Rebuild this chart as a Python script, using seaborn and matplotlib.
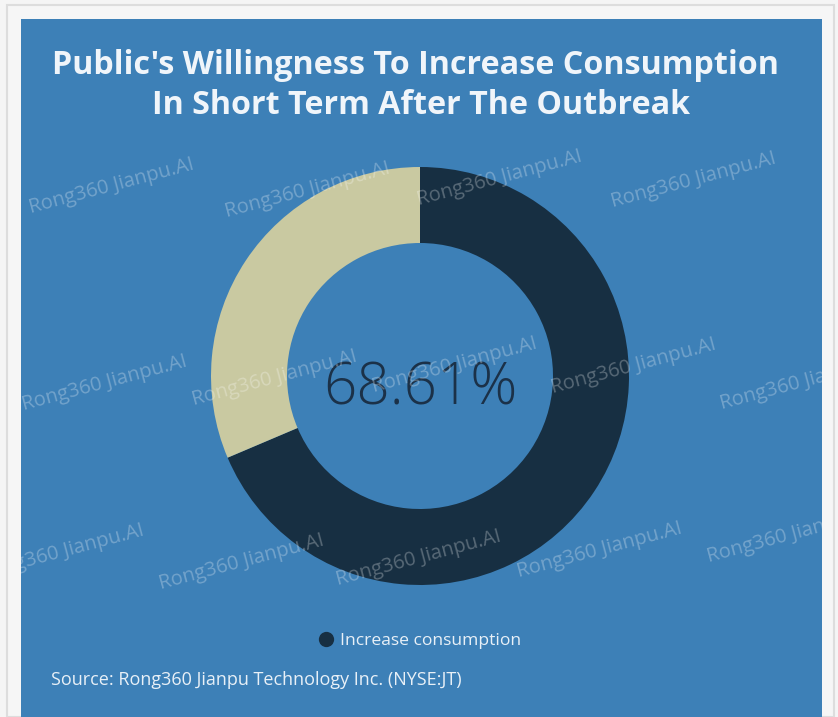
import matplotlib
matplotlib.use("Agg")
import matplotlib.pyplot as plt
import seaborn as sns
from matplotlib.patches import Rectangle
from matplotlib.lines import Line2D

# Survey result
categories = ["Increase consumption", "Other"]
shares = [68.61, 31.39]
seg_colors = ["#172f42", "#c9c9a1"]

title_text = "Public's Willingness To Increase Consumption\nIn Short Term After The Outbreak"
source_text = "Source: Rong360 Jianpu Technology Inc. (NYSE:JT)"
watermark = "Rong360 Jianpu.AI"

W, H = 838, 717
sns.set_theme(style="white")
plt.rcParams["font.family"] = ["Open Sans", "DejaVu Sans"]

fig = plt.figure(figsize=(W / 100, H / 100), dpi=100, facecolor="#f5f5f5")

def fx(x):
    return x / W

def fy(y):
    return 1 - y / H

# outer frame and blue panel
frame = Rectangle((fx(7), 0), fx(834 - 7), fy(5), transform=fig.transFigure,
                  facecolor="#f6f6f6", edgecolor="#dddddd", lw=1.5, zorder=-2)
fig.patches.append(frame)
panel = Rectangle((fx(21), 0), fx(822 - 21), fy(19), transform=fig.transFigure,
                  facecolor="#3d80b7", edgecolor="none", zorder=-1)
fig.patches.append(panel)

# donut
cx, cy, r_out, r_in = 420, 376, 209, 133
ax = fig.add_axes([fx(cx - r_out), fy(cy + r_out), fx(2 * r_out), (2 * r_out) / H])
ax.set_facecolor("none")
ax.axis("off")
wedges, _ = ax.pie(shares, colors=seg_colors, startangle=90, counterclock=False,
                   radius=1, wedgeprops=dict(width=(r_out - r_in) / r_out, edgecolor="none"))
ax.set_xlim(-1, 1)
ax.set_ylim(-1, 1)
ax.set_aspect("equal")
ax.text(0, -0.06, f"{shares[0]:.2f}%", ha="center", va="center",
        fontsize=42, color="#1b3148", fontweight="light")

# title
fig.text(fx(415), fy(65), title_text.split("\n")[0], ha="center", va="center",
         fontsize=23.2, fontweight="bold", color="#f0f5fa")
fig.text(fx(421), fy(106), title_text.split("\n")[1], ha="center", va="center",
         fontsize=23.2, fontweight="bold", color="#f0f5fa")

# legend
handle = Line2D([], [], marker="o", linestyle="none", markersize=11,
                markerfacecolor=seg_colors[0], markeredgecolor="none")
fig.legend([handle], [categories[0]], loc="center", bbox_to_anchor=(fx(419), fy(641)),
           frameon=False, fontsize=12.6, labelcolor="#e8f0f7", handletextpad=0.3,
           handlelength=1.0)

# source note
fig.text(fx(51), fy(680), source_text, ha="left", va="center",
         fontsize=13, color="#e8f0f7")

# watermarks, clipped to the blue panel
wm_pos = [(112, 186), (308, 190), (500, 178), (694, 180),
          (105, 383), (275, 378), (455, 365), (634, 366), (803, 382),
          (62, 552), (242, 562), (419, 558), (600, 550), (790, 535)]
for x, y in wm_pos:
    t = fig.text(fx(x), fy(y), watermark, ha="center", va="center", rotation=15,
                 fontsize=14.5, color="white", alpha=0.28, zorder=10,
                 rotation_mode="anchor")
    t.set_clip_path(panel)

fig.savefig("out.png", dpi=100, facecolor=fig.get_facecolor())
